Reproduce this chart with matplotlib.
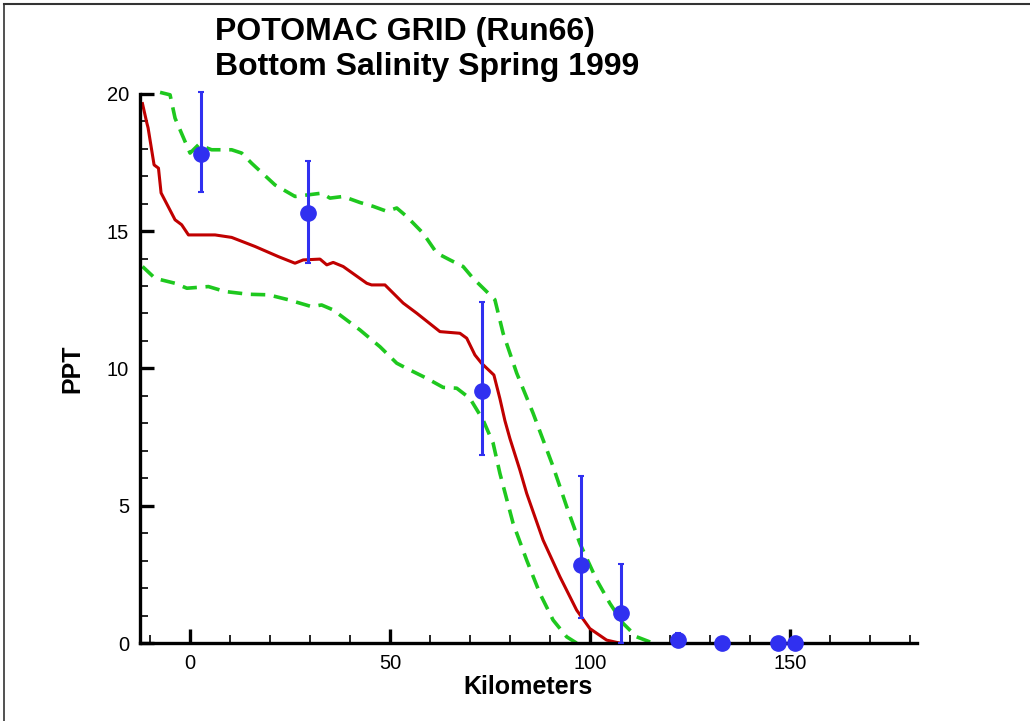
import numpy as np
import matplotlib.pyplot as plt
from matplotlib.lines import Line2D
from matplotlib.ticker import MultipleLocator

plt.rcParams['font.family'] = ['Liberation Sans', 'DejaVu Sans']

# observed bottom salinity (blue dots with error bars)
obs_km = [2.75, 29.5, 73.0, 97.75, 107.75, 122.0, 133.0, 147.0, 151.25]
obs_ppt = [17.8, 15.66, 9.18, 2.84, 1.09, 0.1, 0.0, 0.0, 0.0]
obs_lo = [16.43, 13.84, 6.85, 0.91, 0.0, 0.0, 0.0, 0.0, 0.0]
obs_hi = [20.07, 17.56, 12.42, 6.08, 2.88, 0.36, 0.0, 0.0, 0.0]

# model run (red)
mod_km = [-11.9, -10.8, -10.5, -9.0, -7.9, -7.25, -3.75, -2.1, -0.4, 6.25, 10.4,
          16.25, 22.1, 26.25, 28.3, 32.5, 34.2, 35.8, 38.3, 44.2, 45.4, 48.75,
          53.3, 56.7, 62.5, 67.5, 69.2, 71.25, 72.9, 76.0, 77.5, 78.75, 80.0, 82.5,
          84.2, 88.3, 92.5, 96.7, 100.0, 104.2, 107.5]
mod_ppt = [19.64, 18.93, 18.76, 17.41, 17.29, 16.39, 15.41, 15.23, 14.86, 14.86, 14.77,
           14.44, 14.07, 13.83, 13.95, 13.98, 13.77, 13.86, 13.71, 13.1, 13.04, 13.04,
           12.38, 12.01, 11.34, 11.28, 11.1, 10.49, 10.19, 9.76, 8.9, 8.1, 7.45, 6.3,
           5.45, 3.75, 2.42, 1.2, 0.53, 0.11, 0.0]

# upper envelope (green dashed)
up_km = [-7.5, -5.0, -3.75, -1.25, 0.0, 2.1, 5.4, 10.4, 12.9, 15.4, 21.25, 26.25,
         29.6, 32.9, 35.0, 38.3, 42.5, 45.8, 49.2, 51.7, 54.2, 58.3, 61.7, 65.0,
         68.3, 70.8, 73.75, 76.25, 78.3, 81.7, 85.8, 90.8, 94.2, 97.5, 101.7,
         105.0, 108.3, 111.7, 115.8]
up_ppt = [20.05, 19.96, 19.11, 18.26, 17.84, 18.14, 17.96, 17.96, 17.84, 17.47, 16.68, 16.26,
          16.32, 16.38, 16.2, 16.26, 16.04, 15.9, 15.72, 15.84, 15.53, 14.92, 14.2, 13.95,
          13.71, 13.28, 12.86, 12.5, 11.28, 9.83, 8.37, 6.43, 4.97, 3.63, 2.3,
          1.45, 0.72, 0.23, 0.0]

# lower envelope (green dashed)
lo_km = [-11.9, -8.75, -3.75, -0.8, 4.6, 8.75, 14.6, 19.6, 24.6, 30.4, 32.9,
         35.8, 42.5, 47.5, 51.7, 54.2, 59.2, 63.3, 66.7, 70.0, 73.3, 75.8,
         77.5, 80.8, 84.2, 87.5, 90.8, 94.2, 96.7]
lo_ppt = [13.71, 13.28, 13.1, 12.92, 12.98, 12.8, 12.7, 12.68, 12.5, 12.25, 12.31,
          12.13, 11.4, 10.79, 10.19, 10.0, 9.64, 9.31, 9.28, 8.91, 8.12, 7.28,
          6.18, 4.36, 3.02, 1.81, 0.84, 0.23, 0.0]

fig = plt.figure(figsize=(10.3, 7.21), dpi=100)
ax = fig.add_axes([0.136, 0.108, 0.754, 0.762])

green = '#1ec81e'
l1, = ax.plot(up_km, up_ppt, color=green, lw=2.6, clip_on=False)
l2, = ax.plot(lo_km, lo_ppt, color=green, lw=2.6, clip_on=False)
for l in (l1, l2):
    l.set_dashes((4.0, 2.4))
ax.plot(mod_km, mod_ppt, color='#c00000', lw=2.2, clip_on=False)

obs = np.array(obs_ppt)
yerr = [obs - np.array(obs_lo), np.array(obs_hi) - obs]
ax.errorbar(obs_km, obs_ppt, yerr=yerr, fmt='o', color='#3030f0', ms=11,
            elinewidth=2.2, capsize=2.5, capthick=1.5, clip_on=False, zorder=5)

ax.set_xlim(-12.5, 181.75)
ax.set_ylim(0, 20)
ax.spines['top'].set_visible(False)
ax.spines['right'].set_visible(False)
ax.spines['left'].set_linewidth(2.4)
ax.spines['bottom'].set_linewidth(2.4)
ax.xaxis.set_major_locator(MultipleLocator(50))
ax.xaxis.set_minor_locator(MultipleLocator(10))
ax.yaxis.set_major_locator(MultipleLocator(5))
ax.yaxis.set_minor_locator(MultipleLocator(1))
ax.tick_params(which='major', direction='in', length=10, width=2.4, labelsize=14.5, pad=8)
ax.tick_params(which='minor', direction='in', length=6, width=1.2)

ax.set_xlabel('Kilometers', fontsize=18, fontweight='bold', labelpad=1)
ax.set_ylabel('PPT', fontsize=18, fontweight='bold', labelpad=16)

fig.text(0.209, 0.955, 'POTOMAC GRID (Run66)', fontsize=23, fontweight='bold', va='center')
fig.text(0.209, 0.907, 'Bottom Salinity Spring 1999', fontsize=23, fontweight='bold', va='center')

# outer frame lines
fig.add_artist(Line2D([0.004, 1.0], [0.994, 0.994], color='#333333', lw=1.5))
fig.add_artist(Line2D([0.004, 0.004], [0.0, 0.994], color='#333333', lw=1.2))

fig.savefig('out.png', dpi=100)
